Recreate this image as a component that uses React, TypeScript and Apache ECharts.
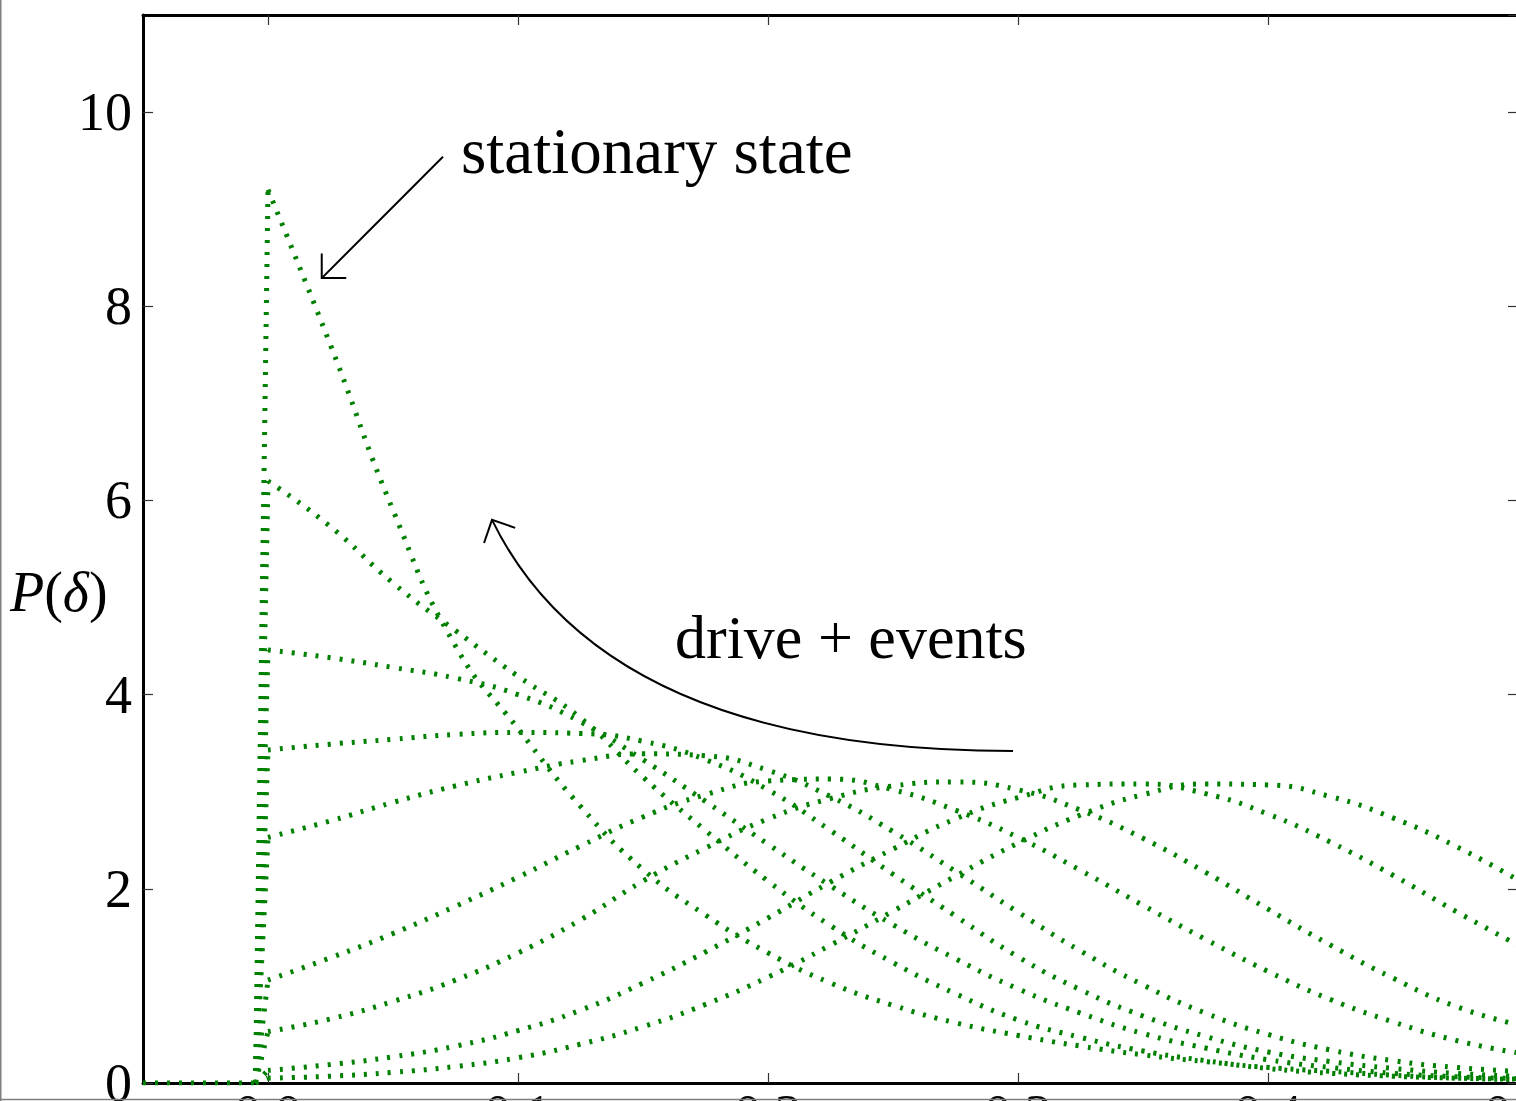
import React, { useEffect, useRef } from "react";
import * as echarts from "echarts";

// Sample positions (delta) shared by every snapshot of P(delta)
const deltaGrid = [
  0, 0.025, 0.05, 0.075, 0.1, 0.125, 0.15, 0.175, 0.2, 0.225, 0.25, 0.275, 0.3,
  0.325, 0.35, 0.375, 0.4, 0.425, 0.45, 0.475, 0.5,
];

// Snapshots of the distribution, from the earliest one to the stationary state
const pSnap1 = [0.05, 0.07, 0.11, 0.17, 0.26, 0.4, 0.58, 0.81, 1.09, 1.42, 1.77, 2.13, 2.47, 2.76, 2.97, 3.08, 3.07, 2.95, 2.73, 2.44, 2.09];
const pSnap2 = [0.13, 0.19, 0.27, 0.38, 0.54, 0.75, 1.03, 1.35, 1.7, 2.07, 2.41, 2.72, 2.94, 3.07, 3.08, 2.98, 2.77, 2.48, 2.14, 1.77, 1.42];
const pSnap3 = [0.53, 0.66, 0.84, 1.06, 1.34, 1.68, 2.08, 2.42, 2.72, 2.93, 3.06, 3.1, 3.02, 2.81, 2.52, 2.17, 1.79, 1.42, 1.08, 0.79, 0.6];
const pSnap4 = [1.06, 1.29, 1.54, 1.82, 2.12, 2.44, 2.74, 2.97, 3.11, 3.13, 3.02, 2.81, 2.53, 2.19, 1.83, 1.48, 1.15, 0.86, 0.63, 0.44, 0.31];
const pSnap5 = [2.53, 2.7, 2.89, 3.06, 3.2, 3.32, 3.39, 3.37, 3.22, 2.95, 2.59, 2.18, 1.76, 1.36, 1.01, 0.72, 0.5, 0.34, 0.23, 0.16, 0.12];
const pSnap6 = [3.43, 3.49, 3.54, 3.59, 3.61, 3.6, 3.52, 3.33, 3.02, 2.6, 2.15, 1.72, 1.3, 0.96, 0.69, 0.48, 0.32, 0.22, 0.15, 0.1, 0.07];
const pSnap7 = [4.46, 4.38, 4.28, 4.17, 4.0, 3.72, 3.33, 2.9, 2.46, 2.03, 1.63, 1.28, 0.97, 0.72, 0.51, 0.36, 0.24, 0.16, 0.1, 0.065, 0.045];
const pSnap8 = [6.2, 5.73, 5.15, 4.66, 4.19, 3.76, 3.15, 2.6, 2.08, 1.62, 1.24, 0.92, 0.65, 0.47, 0.33, 0.23, 0.15, 0.1, 0.07, 0.05, 0.04];
const pStationary = [9.2, 7.6, 5.9, 4.5, 3.65, 2.85, 2.2, 1.73, 1.34, 1.03, 0.8, 0.62, 0.49, 0.38, 0.29, 0.22, 0.16, 0.12, 0.08, 0.05, 0.035];

const snapshots = [pSnap1, pSnap2, pSnap3, pSnap4, pSnap5, pSnap6, pSnap7, pSnap8, pStationary];

// Below the origin the distribution is zero; last zero sample before the jump
const zeroStart = -0.05;
const zeroEnd = -0.005;

// Axis ranges and tick labels
const xMin = -0.05;
const xMax = 0.5;
const xTicks = [0, 0.1, 0.2, 0.3, 0.4, 0.5];
const yMin = 0;
const yMax = 11;
const yStep = 2;

// Annotations, placed in data coordinates
const stationaryLabel = { text: "stationary state", at: [0.0772, 9.6] };
const stationaryArrow = { from: [0.07, 9.54], to: [0.0215, 8.29] };
const driveLabel = { text: "drive + events", at: [0.1628, 4.59] };
const driveArrow = { from: [0.298, 3.42], ctrl: [0.1348, 3.42], to: [0.0896, 5.8] };

const GREEN = "#008000";
const SERIF = '"Liberation Serif", "Times New Roman", serif';

function arrowHead(tip: number[], back: number[], len: number) {
  const dx = back[0] - tip[0];
  const dy = back[1] - tip[1];
  const n = Math.hypot(dx, dy) || 1;
  const ux = dx / n;
  const uy = dy / n;
  const c = Math.SQRT1_2;
  const a = [tip[0] + len * (ux * c - uy * c), tip[1] + len * (ux * c + uy * c)];
  const b = [tip[0] + len * (ux * c + uy * c), tip[1] + len * (-ux * c + uy * c)];
  return [a, tip, b];
}

export default function App() {
  const ref = useRef<HTMLDivElement>(null);

  useEffect(() => {
    if (!ref.current) return;
    const chart = echarts.init(ref.current, null, { renderer: "svg" });

    const dotted = {
      color: GREEN,
      width: 5,
      type: [3, 9] as any,
      cap: "butt" as const,
    };

    const curveSeries = snapshots.map((vals, i) => ({
      name: `snapshot ${i + 1}`,
      type: "line",
      data: deltaGrid.map((d, k) => [d, vals[k]]),
      smooth: 0.5,
      showSymbol: false,
      symbol: "none",
      lineStyle: dotted,
      z: 3,
    }));

    const riseSeries = snapshots.map((vals, i) => ({
      name: `rise ${i + 1}`,
      type: "line",
      data: [
        [zeroEnd, 0],
        [deltaGrid[0], vals[0]],
      ],
      showSymbol: false,
      symbol: "none",
      lineStyle: dotted,
      z: 3,
    }));

    const zeroSeries = {
      name: "zero",
      type: "line",
      data: [
        [zeroStart, 0],
        [zeroEnd, 0],
      ],
      showSymbol: false,
      symbol: "none",
      lineStyle: dotted,
      z: 3,
    };

    const spine = { show: true, onZero: false, lineStyle: { color: "#000", width: 3 } };
    const tick = { show: true, inside: true, length: 10, lineStyle: { color: "#333", width: 1.2 } };

    chart.setOption({
      animation: false,
      backgroundColor: "#fff",
      grid: {
        left: 143,
        top: 15,
        width: 1375,
        height: 1068,
        containLabel: false,
        outerBoundsMode: "none",
      },
      xAxis: [
        {
          type: "value",
          min: xMin,
          max: xMax,
          position: "bottom",
          axisLine: spine,
          axisTick: { ...tick, customValues: xTicks },
          axisLabel: {
            show: true,
            customValues: xTicks,
            formatter: (v: number) => v.toFixed(1),
            fontFamily: SERIF,
            fontSize: 54,
            color: "#000",
            margin: 4,
          },
          splitLine: { show: false },
        },
        {
          type: "value",
          min: xMin,
          max: xMax,
          position: "top",
          axisLine: spine,
          axisTick: { ...tick, customValues: xTicks },
          axisLabel: { show: false },
          splitLine: { show: false },
        },
      ],
      yAxis: [
        {
          type: "value",
          min: yMin,
          max: yMax,
          interval: yStep,
          position: "left",
          axisLine: spine,
          axisTick: tick,
          axisLabel: {
            fontFamily: SERIF,
            fontSize: 54,
            color: "#000",
            margin: 11,
            showMaxLabel: false,
          },
          splitLine: { show: false },
        },
        {
          type: "value",
          min: yMin,
          max: yMax,
          interval: yStep,
          position: "right",
          axisLine: spine,
          axisTick: tick,
          axisLabel: { show: false },
          splitLine: { show: false },
        },
      ],
      series: [zeroSeries, ...riseSeries, ...curveSeries],
    });

    const px = (p: number[]) => chart.convertToPixel({ gridIndex: 0 }, p) as number[];

    const sLab = px(stationaryLabel.at);
    const a1From = px(stationaryArrow.from);
    const a1To = px(stationaryArrow.to);
    const dLab = px(driveLabel.at);
    const a2From = px(driveArrow.from);
    const a2Ctrl = px(driveArrow.ctrl);
    const a2To = px(driveArrow.to);

    const ink = { stroke: "#000", lineWidth: 2, fill: "none" };

    chart.setOption({
      graphic: [
        {
          type: "line",
          shape: { x1: a1From[0], y1: a1From[1], x2: a1To[0], y2: a1To[1] },
          style: ink,
          z: 10,
        },
        {
          type: "polyline",
          shape: { points: arrowHead(a1To, a1From, 24.5) },
          style: ink,
          z: 10,
        },
        {
          type: "bezierCurve",
          shape: {
            x1: a2From[0],
            y1: a2From[1],
            cpx1: a2Ctrl[0],
            cpy1: a2Ctrl[1],
            x2: a2To[0],
            y2: a2To[1],
          },
          style: ink,
          z: 10,
        },
        {
          type: "polyline",
          shape: { points: arrowHead(a2To, a2Ctrl, 24.5) },
          style: ink,
          z: 10,
        },
        {
          type: "text",
          x: sLab[0],
          y: sLab[1],
          style: {
            text: stationaryLabel.text,
            fontFamily: SERIF,
            fontSize: 65,
            fill: "#000",
            align: "left",
            verticalAlign: "middle",
          },
          z: 10,
        },
        {
          type: "text",
          x: dLab[0],
          y: dLab[1],
          style: {
            text: driveLabel.text,
            fontFamily: SERIF,
            fontSize: 62,
            fill: "#000",
            align: "left",
            verticalAlign: "middle",
          },
          z: 10,
        },
        {
          type: "text",
          x: 10,
          y: 592,
          style: {
            text: "{it|P}({it|δ})",
            fontFamily: SERIF,
            fontSize: 56,
            fill: "#000",
            align: "left",
            verticalAlign: "middle",
            rich: {
              it: { fontStyle: "italic", fontFamily: SERIF, fontSize: 56, fill: "#000" },
            },
          },
          z: 10,
        },
        {
          type: "line",
          shape: { x1: 0.75, y1: 0, x2: 0.75, y2: 1101 },
          style: { stroke: "#7f7f7f", lineWidth: 1.5 },
          z: 20,
        },
        {
          type: "line",
          shape: { x1: 0, y1: 1099.5, x2: 1516, y2: 1099.5 },
          style: { stroke: "#7f7f7f", lineWidth: 1.5 },
          z: 20,
        },
      ],
    });

    return () => chart.dispose();
  }, []);

  return (
    <div
      ref={ref}
      style={{ position: "fixed", left: 0, top: 0, width: 1516, height: 1101, background: "#fff" }}
    />
  );
}
